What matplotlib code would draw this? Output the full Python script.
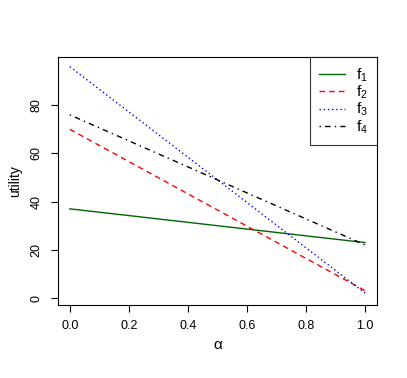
import matplotlib
matplotlib.use("Agg")
import matplotlib.pyplot as plt

plt.rcParams['font.family'] = ['Liberation Sans', 'DejaVu Sans']
plt.rcParams['mathtext.fontset'] = 'custom'
plt.rcParams['mathtext.rm'] = 'Liberation Sans'
plt.rcParams['mathtext.it'] = 'Liberation Sans'

alpha = [0.0, 1.0]
f1 = [37, 23]
f2 = [70, 3]
f3 = [96, 2]
f4 = [76, 22]
labels = ['$\\mathregular{f_1}$', '$\\mathregular{f_2}$', '$\\mathregular{f_3}$', '$\\mathregular{f_4}$']
xticks = [0.0, 0.2, 0.4, 0.6, 0.8, 1.0]
yticks = [0, 20, 40, 60, 80]

fig = plt.figure(figsize=(4.07, 3.78), dpi=100)
ax = fig.add_axes([58/407, 1-305/378, (377-58)/407, (305-57)/378])

ax.plot(alpha, f1, color='#006400', lw=1, ls='-', label=labels[0])
ax.plot(alpha, f2, color='red', lw=1, ls=(0, (4, 3)), label=labels[1])
ax.plot(alpha, f3, color='blue', lw=1, ls=(0, (1, 2)), label=labels[2])
ax.plot(alpha, f4, color='black', lw=1, ls=(0, (1, 3, 4, 3)), label=labels[3])

ax.set_xlim(-0.04, 1.04)
ax.set_ylim(-2.9, 100)
ax.set_xticks(xticks)
ax.set_xticklabels([f"{t:.1f}" for t in xticks])
ax.set_yticks(yticks)
ax.set_yticklabels([str(t) for t in yticks], rotation=90, va='center')
ax.tick_params(direction='out', length=5, width=0.8, labelsize=9, pad=6, color='black')
for s in ax.spines.values():
    s.set_linewidth(0.8)
ax.set_xlabel('α', fontsize=11, labelpad=4)
ax.set_ylabel('utility', fontsize=10, labelpad=6)

leg = ax.legend(loc='upper right', fontsize=11, frameon=True, fancybox=False,
                edgecolor='black', borderaxespad=0, handlelength=1.7,
                borderpad=0.6, labelspacing=0.0, handletextpad=0.7)
leg.get_frame().set_linewidth(0.8)

fig.savefig('out.png', dpi=100)
